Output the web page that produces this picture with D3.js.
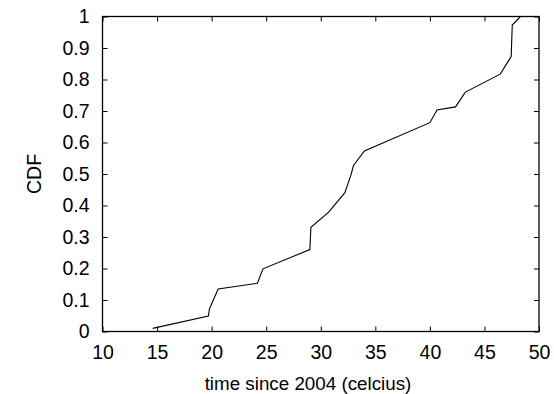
<!DOCTYPE html>
<html>
<head>
<meta charset="utf-8">
<script src="https://cdn.jsdelivr.net/npm/d3@7"></script>
<style>
  body { margin: 0; background: #fff; }
  svg text { font-family: "Liberation Sans", Arial, sans-serif; fill: #000; }
</style>
</head>
<body>
<div id="chart"></div>
<script>
// temperature values (x) and the cumulative fraction (y)
var temps = [14.6, 19.7, 19.8, 20.6, 24.2, 24.7, 29.0, 29.1, 30.7, 32.2, 32.75, 33.0, 34.0, 40.0, 40.65, 42.35, 43.25, 46.45, 47.45, 47.55, 48.3];
var cdf   = [0.01, 0.049, 0.072, 0.135, 0.153, 0.199, 0.26, 0.331, 0.378, 0.44, 0.495, 0.527, 0.573, 0.663, 0.703, 0.713, 0.76, 0.817, 0.873, 0.973, 1.0];
var xTicks = [10, 15, 20, 25, 30, 35, 40, 45, 50];
var yTicks = [0, 0.1, 0.2, 0.3, 0.4, 0.5, 0.6, 0.7, 0.8, 0.9, 1];

var width = 554, height = 394;
var margin = {top: 16.5, right: 15, bottom: 62.5, left: 102.5};
var fontSize = 19.5;

var svg = d3.select("#chart").append("svg")
  .attr("width", width)
  .attr("height", height);

var x = d3.scaleLinear().domain([10, 50]).range([margin.left, width - margin.right]);
var y = d3.scaleLinear().domain([0, 1]).range([height - margin.bottom, margin.top]);

// axes - gnuplot style, ticks point inward, mirrored on top/right
var xAxis = d3.axisBottom(x).tickValues(xTicks).tickSize(-5).tickPadding(13).tickFormat(d3.format("d"));
var xAxisTop = d3.axisTop(x).tickValues(xTicks).tickSize(-5).tickFormat("");
var yAxis = d3.axisLeft(y).tickValues(yTicks).tickSize(-5).tickPadding(13).tickFormat(function(d){ return d === 0 || d === 1 ? d3.format("d")(d) : d3.format(".1f")(d); });
var yAxisRight = d3.axisRight(y).tickValues(yTicks).tickSize(-5).tickFormat("");

function styleAxis(g) {
  g.select(".domain").remove();
  g.selectAll(".tick line").attr("stroke", "#000").attr("stroke-width", 1);
  g.selectAll(".tick text").attr("font-size", fontSize);
}

svg.append("g").attr("transform", "translate(0," + y(0) + ")").call(xAxis).call(styleAxis)
  .selectAll(".tick text").attr("dy", "0.72em");
svg.append("g").attr("transform", "translate(0," + y(1) + ")").call(xAxisTop).call(styleAxis);
svg.append("g").attr("transform", "translate(" + x(10) + ",0)").call(yAxis).call(styleAxis);
svg.append("g").attr("transform", "translate(" + x(50) + ",0)").call(yAxisRight).call(styleAxis);

// frame
svg.append("rect")
  .attr("x", x(10)).attr("y", y(1))
  .attr("width", x(50) - x(10)).attr("height", y(0) - y(1))
  .attr("fill", "none").attr("stroke", "#000").attr("stroke-width", 1.3);

// the curve
var pts = temps.map(function(t, i){ return [t, cdf[i]]; });
var line = d3.line().x(function(d){ return x(d[0]); }).y(function(d){ return y(d[1]); });
svg.append("path")
  .datum(pts)
  .attr("d", line)
  .attr("fill", "none")
  .attr("stroke", "#000")
  .attr("stroke-width", 1.1);

// axis titles
svg.append("text")
  .attr("x", 308)
  .attr("y", 390)
  .attr("text-anchor", "middle")
  .attr("font-size", 18.8)
  .text("time since 2004 (celcius)");

svg.append("text")
  .attr("transform", "translate(41," + ((y(0) + y(1)) / 2) + ") rotate(-90)")
  .attr("text-anchor", "middle")
  .attr("font-size", fontSize)
  .text("CDF");
</script>
</body>
</html>
